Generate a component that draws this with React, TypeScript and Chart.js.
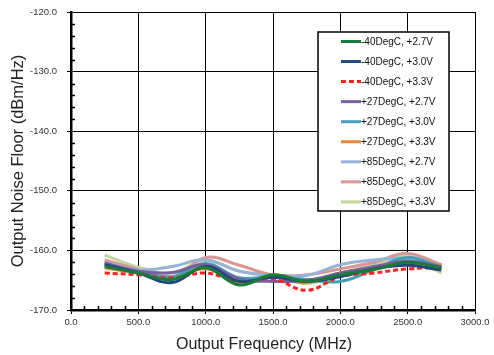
import React, { useEffect, useRef } from "react";
import { Chart, registerables } from "chart.js";

Chart.register(...registerables);

const freqs = [250, 500, 750, 1000, 1250, 1500, 1750, 2000, 2250, 2500, 2750];

const seriesLabels = [
  "-40DegC, +2.7V",
  "-40DegC, +3.0V",
  "-40DegC, +3.3V",
  "+27DegC, +2.7V",
  "+27DegC, +3.0V",
  "+27DegC, +3.3V",
  "+85DegC, +2.7V",
  "+85DegC, +3.0V",
  "+85DegC, +3.3V",
];

const xTitle = "Output Frequency (MHz)";
const yTitle = "Output Noise Floor (dBm/Hz)";

const m40_27 = [-162.7, -163.8, -164.9, -162.9, -165.8, -164.1, -165.2, -164.1, -163.2, -162.0, -162.9];
const m40_30 = [-162.4, -163.8, -165.4, -162.7, -165.2, -164.5, -165.2, -164.4, -163.1, -162.5, -163.3];
const m40_33 = [-163.8, -164.1, -164.6, -163.8, -165.2, -164.8, -166.7, -164.4, -163.8, -163.1, -162.9];
const p27_27 = [-162.1, -163.5, -163.7, -162.4, -164.8, -165.2, -165.0, -163.8, -162.7, -161.8, -162.7];
const p27_30 = [-162.3, -163.5, -164.4, -162.2, -164.6, -164.4, -164.9, -165.2, -163.2, -161.2, -162.8];
const p27_33 = [-162.9, -163.8, -164.6, -163.1, -165.4, -164.5, -165.4, -163.8, -162.9, -162.2, -162.5];
const p85_27 = [-162.0, -163.3, -162.7, -161.6, -163.5, -164.2, -164.2, -162.4, -161.6, -161.4, -163.1];
const p85_30 = [-161.6, -163.2, -164.8, -161.2, -162.5, -164.1, -164.1, -163.1, -162.0, -160.5, -162.4];
const p85_33 = [-160.8, -162.8, -163.8, -161.6, -163.5, -164.1, -165.6, -163.8, -162.4, -161.0, -163.8];

const seriesValues = [m40_27, m40_30, m40_33, p27_27, p27_30, p27_33, p85_27, p85_30, p85_33];
const seriesColors = ["#1a7a3a", "#1f497d", "#ff2020", "#7a5fa0", "#3fa0b8", "#e8873a", "#95b3d7", "#d99694", "#c3d69b"];
const seriesDashed = [false, false, true, false, false, false, false, false, false];

const FONT = "'Liberation Sans', Arial, sans-serif";

const minorTicks = {
  id: "minorTicks",
  afterDraw(chart: any) {
    const { ctx, chartArea } = chart;
    const xs = chart.scales.x;
    const ys = chart.scales.y;
    ctx.save();
    ctx.strokeStyle = "#000";
    ctx.lineWidth = 1.5;
    for (let v = -170; v <= -120; v += 2) {
      if (v % 10 === 0) continue;
      const p = Math.round(ys.getPixelForValue(v)) + 0.5;
      ctx.beginPath();
      ctx.moveTo(chartArea.left, p);
      ctx.lineTo(chartArea.left + 4, p);
      ctx.stroke();
    }
    for (let v = 0; v <= 3000; v += 100) {
      if (v % 500 === 0) continue;
      const p = Math.round(xs.getPixelForValue(v)) + 0.5;
      ctx.beginPath();
      ctx.moveTo(p, chartArea.bottom);
      ctx.lineTo(p, chartArea.bottom - 4);
      ctx.stroke();
    }
    // axis titles
    ctx.fillStyle = "#222";
    ctx.font = `16px ${FONT}`;
    ctx.textAlign = "center";
    ctx.textBaseline = "middle";
    ctx.fillText(xTitle, 264, 345);
    ctx.translate(18, 161);
    ctx.rotate(-Math.PI / 2);
    ctx.font = `16.5px ${FONT}`;
    ctx.fillText(yTitle, 0, 0);
    ctx.restore();
  },
};

const boxLegend = {
  id: "boxLegend",
  afterDatasetsDraw(chart: any) {
    const { ctx } = chart;
    const bx = 318, by = 32, bw = 131, bh = 179;
    ctx.save();
    ctx.fillStyle = "#fff";
    ctx.fillRect(bx, by, bw, bh);
    ctx.strokeStyle = "#000";
    ctx.lineWidth = 1.5;
    ctx.strokeRect(bx, by, bw, bh);
    ctx.font = `10px ${FONT}`;
    ctx.textBaseline = "middle";
    ctx.textAlign = "left";
    chart.data.datasets.forEach((ds: any, i: number) => {
      const y = 41.5 + i * 20.05;
      ctx.strokeStyle = ds.borderColor;
      ctx.lineWidth = 3;
      ctx.setLineDash(ds.borderDash || []);
      ctx.beginPath();
      ctx.moveTo(341, y);
      ctx.lineTo(361, y);
      ctx.stroke();
      ctx.setLineDash([]);
      ctx.fillStyle = "#111";
      ctx.fillText(ds.label, 361, y + 0.5);
    });
    ctx.restore();
  },
};

export default function App() {
  const ref = useRef<HTMLCanvasElement>(null);
  useEffect(() => {
    if (!ref.current) return;
    const chart = new Chart(ref.current, {
      type: "line",
      data: {
        datasets: seriesLabels.map((label, i) => ({
          label,
          data: freqs.map((f, j) => ({ x: f, y: seriesValues[i][j] })),
          borderColor: seriesColors[i],
          backgroundColor: seriesColors[i],
          borderWidth: 3,
          borderDash: seriesDashed[i] ? [5, 3] : [],
          pointRadius: 0,
          tension: 0.4,
          fill: false,
        })),
      },
      options: {
        animation: false,
        responsive: false,
        maintainAspectRatio: false,
        layout: { padding: { top: 12, right: 19, left: 0, bottom: 0 } },
        plugins: { legend: { display: false }, tooltip: { enabled: false } },
        scales: {
          x: {
            type: "linear",
            min: 0,
            max: 3000,
            afterFit: (s: any) => { s.height = 45; s.paddingLeft = 0; s.paddingRight = 0; },
            ticks: {
              stepSize: 500,
              padding: 3,
              color: "#333",
              font: { family: FONT, size: 9.5 },
              callback: (v: any) => Number(v).toFixed(1),
              maxRotation: 0,
              autoSkip: false,
            },
            grid: { color: "#000", lineWidth: 1, tickLength: 4, tickColor: "#000" },
            border: { color: "#000", width: 2.5 },
          },
          y: {
            min: -170,
            max: -120,
            afterFit: (s: any) => { s.width = 71; s.paddingTop = 0; s.paddingBottom = 0; },
            ticks: {
              stepSize: 10,
              padding: 10,
              color: "#333",
              font: { family: FONT, size: 9.5 },
              callback: (v: any) => Number(v).toFixed(1),
            },
            grid: { color: "#000", lineWidth: 1, tickLength: 4, tickColor: "#000" },
            border: { color: "#000", width: 2.5 },
          },
        },
      },
      plugins: [minorTicks, boxLegend],
    });
    return () => chart.destroy();
  }, []);
  return (
    <div style={{ position: "fixed", left: 0, top: 0, width: 494, height: 355, background: "#fff" }}>
      <canvas ref={ref} width={494} height={355} style={{ width: 494, height: 355, display: "block" }} />
    </div>
  );
}
